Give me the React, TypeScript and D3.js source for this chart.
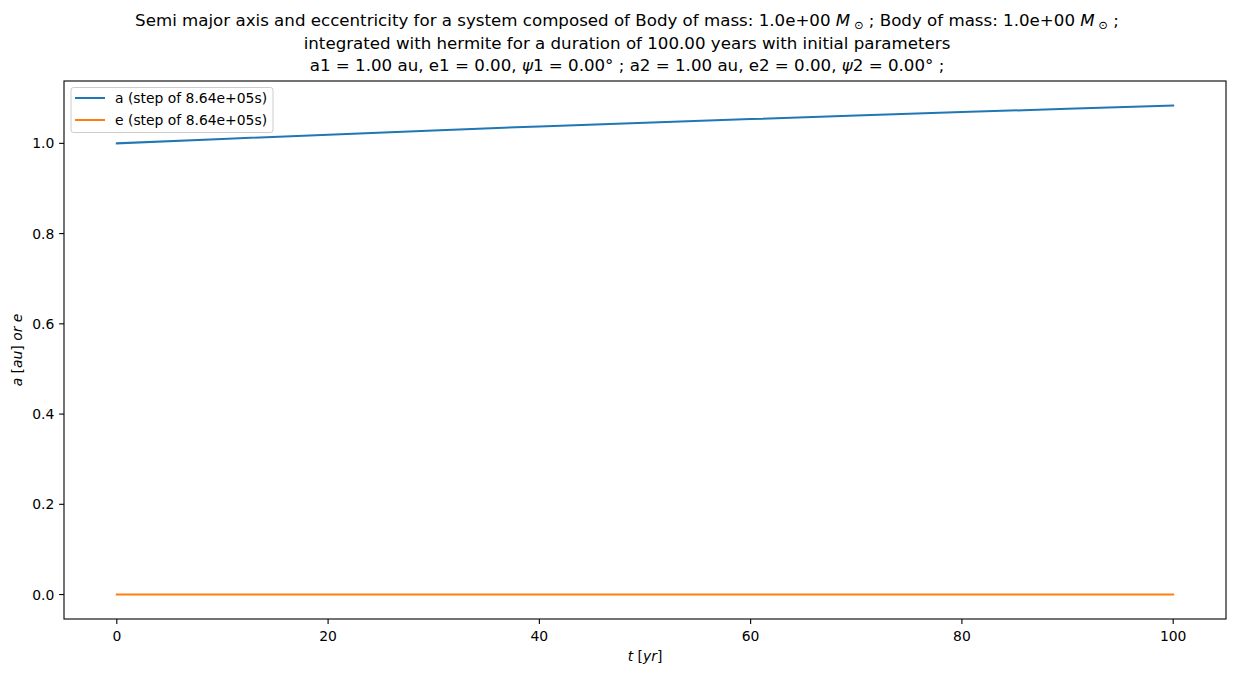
import React from "react";
import * as d3 from "d3";

const tYears = [0, 10, 20, 30, 40, 50, 60, 70, 80, 90, 100];
const aValues = [1.0, 1.0098, 1.0192, 1.0285, 1.0376, 1.0458, 1.0538, 1.0617, 1.0693, 1.0767, 1.084];
const eValues = [0, 0, 0, 0, 0, 0, 0, 0, 0, 0, 0];
const xTicks = [0, 20, 40, 60, 80, 100];
const yTicks = [0.0, 0.2, 0.4, 0.6, 0.8, 1.0];
const legendLabels = ["a (step of 8.64e+05s)", "e (step of 8.64e+05s)"];

const W = 1236, H = 676;
const left = 64, right = 1226, top = 81, bottom = 619;
const FONT = "DejaVu Sans, sans-serif";
const FS = 13.9;

export default function App() {
  const x = d3.scaleLinear().domain([-5, 105]).range([left, right]);
  const y = d3.scaleLinear().domain([-0.0542, 1.1382]).range([bottom, top]);
  const line = d3.line<number>().x((_, i) => x(tYears[i])).y((d) => y(d));
  const colors = ["#1f77b4", "#ff7f0e"];
  const series = [aValues, eValues];
  const cx = 627;
  return (
    <svg width={W} height={H} style={{ position: "absolute", left: 0, top: 0, background: "#fff" }} fontFamily={FONT}>
      <rect x={0} y={0} width={W} height={H} fill="#fff" />
      {/* title */}
      <g fontSize={16.67} textAnchor="middle" fill="#000">
        <text x={cx} y={26}>
          Semi major axis and eccentricity for a system composed of Body of mass: 1.0e+00{" "}
          <tspan fontStyle="italic">M</tspan>
          <tspan fontSize={11.5} dy={3}> ⊙</tspan>
          <tspan dy={-3}> ; Body of mass: 1.0e+00 </tspan>
          <tspan fontStyle="italic">M</tspan>
          <tspan fontSize={11.5} dy={3}> ⊙</tspan>
          <tspan dy={-3}> ;</tspan>
        </text>
        <text x={cx} y={49}>integrated with hermite for a duration of 100.00 years with initial parameters</text>
        <text x={cx} y={71}>
          a1 = 1.00 au, e1 = 0.00, <tspan fontStyle="italic">ψ</tspan>1 = 0.00° ; a2 = 1.00 au, e2 = 0.00, <tspan fontStyle="italic">ψ</tspan>2 = 0.00° ;
        </text>
      </g>
      {/* lines */}
      {series.map((s, i) => (
        <path key={i} d={line(s) || ""} fill="none" stroke={colors[i]} strokeWidth={2} strokeLinecap="square" />
      ))}
      {/* frame */}
      <rect x={left} y={top} width={right - left} height={bottom - top} fill="none" stroke="#000" strokeWidth={1.1} />
      {/* x ticks */}
      <g fontSize={FS} textAnchor="middle">
        {xTicks.map((t) => (
          <g key={t}>
            <line x1={x(t)} x2={x(t)} y1={bottom} y2={bottom + 4.9} stroke="#000" strokeWidth={1.1} />
            <text x={x(t)} y={bottom + 22}>{t}</text>
          </g>
        ))}
      </g>
      {/* y ticks */}
      <g fontSize={FS} textAnchor="end">
        {yTicks.map((t) => (
          <g key={t}>
            <line x1={left - 4.9} x2={left} y1={y(t)} y2={y(t)} stroke="#000" strokeWidth={1.1} />
            <text x={left - 9.7} y={y(t) + 5}>{t.toFixed(1)}</text>
          </g>
        ))}
      </g>
      {/* axis labels */}
      <text x={(left + right) / 2} y={661} fontSize={FS} textAnchor="middle">
        <tspan fontStyle="italic">t</tspan>
        <tspan> [</tspan>
        <tspan fontStyle="italic">yr</tspan>
        <tspan>]</tspan>
      </text>
      <text transform={`translate(22,${(top + bottom) / 2}) rotate(-90)`} fontSize={FS} textAnchor="middle">
        <tspan fontStyle="italic">a</tspan>
        <tspan> [</tspan>
        <tspan fontStyle="italic">au</tspan>
        <tspan>] </tspan>
        <tspan fontStyle="italic">or e</tspan>
      </text>
      {/* legend */}
      <g>
        <rect x={71} y={87.5} width={202} height={45} rx={2.5} fill="#fff" fillOpacity={0.8} stroke="#ccc" strokeWidth={1} />
        {legendLabels.map((l, i) => (
          <g key={l}>
            <line x1={75} x2={105} y1={98 + i * 22} y2={98 + i * 22} stroke={colors[i]} strokeWidth={2} />
            <text x={115} y={103 + i * 22} fontSize={FS}>{l}</text>
          </g>
        ))}
      </g>
    </svg>
  );
}
